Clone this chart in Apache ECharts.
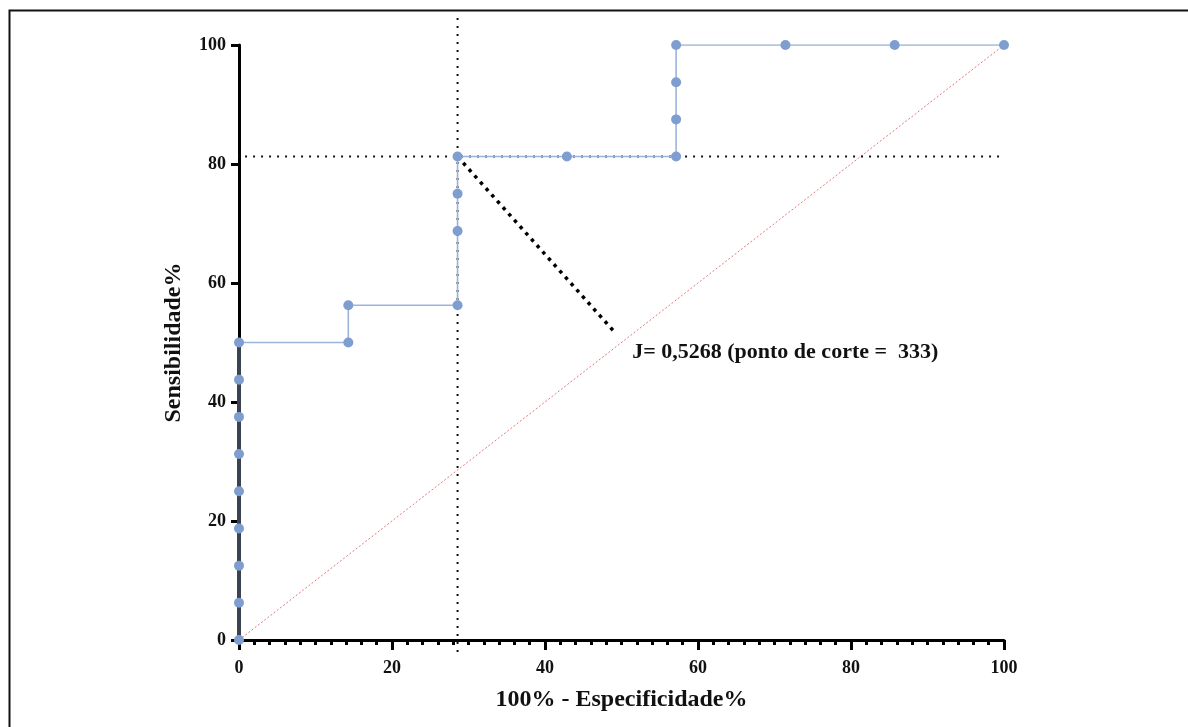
<!DOCTYPE html>
<html>
<head>
<meta charset="utf-8">
<script src="https://cdn.jsdelivr.net/npm/echarts@6/dist/echarts.min.js"></script>
<style>
html,body{margin:0;padding:0;background:#fff;}
#chart{width:1188px;height:727px;}
</style>
</head>
<body>
<div id="chart"></div>
<script>
// ROC curve points (100% - Especificidade%, Sensibilidade%)
const fpr  = [0,0,0,0,0,0,0,0,0, 14.29,14.29, 28.57,28.57,28.57,28.57, 42.86, 57.14,57.14,57.14,57.14, 71.43, 85.71, 100];
const sens = [0,6.25,12.5,18.75,25,31.25,37.5,43.75,50, 50,56.25, 56.25,68.75,75,81.25, 81.25, 81.25,87.5,93.75,100, 100, 100, 100];
// optimal cut-off (Youden)
const cutX = 28.57;
const cutY = 81.25;
const vLine = [[cutX, -2], [cutX, 104.7]];
const hLine = [[-1.3, cutY], [100, cutY]];
const jLine = [[cutX, cutY], [49.2, 51.6]];
const refLine = [[0, 0], [100, 100]];
const annText = 'J= 0,5268 (ponto de corte =  333)';
const annPos = [51.4, 48.3];
const xTicks = [0, 20, 40, 60, 80, 100];
const yTicks = [0, 20, 40, 60, 80, 100];

const pts = fpr.map((x, i) => [x, sens[i]]);
const zeroSeg = pts.filter(p => p[0] === 0);

const font = '"Liberation Serif", "Times New Roman", serif';
const chart = echarts.init(document.getElementById('chart'));
chart.setOption({
  animation: false,
  backgroundColor: '#fff',
  graphic: [{
    type: 'rect', silent: true,
    shape: { x: 9.5, y: 10.5, width: 1400, height: 1000 },
    style: { fill: 'none', stroke: '#111', lineWidth: 2 }
  }],
  grid: { left: 239, right: 184, top: 45, bottom: 87, containLabel: false },
  xAxis: {
    type: 'value', min: 0, max: 100, interval: 20,
    name: '100% - Especificidade%', nameLocation: 'middle', nameGap: 48,
    nameTextStyle: { fontFamily: font, fontWeight: 'bold', fontSize: 24, color: '#111' },
    axisLine: { show: true, onZero: false, lineStyle: { color: '#000', width: 3 } },
    axisTick: { show: true, length: 10, lineStyle: { color: '#000', width: 3 } },
    minorTick: { show: true, splitNumber: 10, length: 5, lineStyle: { color: '#000', width: 3 } },
    axisLabel: { fontFamily: font, fontWeight: 'bold', fontSize: 18, color: '#111', margin: 19,
      formatter: v => xTicks.includes(v) ? String(v) : '' },
    splitLine: { show: false }, minorSplitLine: { show: false }
  },
  yAxis: {
    type: 'value', min: 0, max: 100, interval: 20,
    name: 'Sensibilidade%', nameLocation: 'middle', nameGap: 53,
    nameTextStyle: { fontFamily: font, fontWeight: 'bold', fontSize: 24, color: '#111' },
    axisLine: { show: true, onZero: false, lineStyle: { color: '#000', width: 3 } },
    axisTick: { show: true, length: 8, lineStyle: { color: '#000', width: 3 } },
    axisLabel: { fontFamily: font, fontWeight: 'bold', fontSize: 18, color: '#111', margin: 13,
      formatter: v => yTicks.includes(v) ? String(v) : '' },
    splitLine: { show: false }
  },
  series: [
    { type: 'line', data: refLine, symbol: 'none', silent: true, z: 1,
      lineStyle: { color: '#e07a7a', width: 1, type: [2, 2] } },
    { type: 'line', data: vLine, symbol: 'none', clip: false, silent: true, z: 3,
      lineStyle: { color: '#111', width: 2, type: [2, 6] } },
    { type: 'line', data: hLine, symbol: 'none', clip: false, silent: true, z: 3,
      lineStyle: { color: '#111', width: 2, type: [2, 6] } },
    { type: 'line', data: jLine, symbol: 'none', silent: true, z: 3,
      lineStyle: { color: '#000', width: 3.5, type: [3.5, 5] } },
    { type: 'line', data: pts, symbol: 'none', silent: true, z: 4,
      lineStyle: { color: '#9bb3da', width: 1.6 } },
    { type: 'line', data: zeroSeg, symbol: 'none', clip: false, silent: true, z: 5,
      lineStyle: { color: '#3b4350', width: 4 } },
    { type: 'scatter', data: pts, symbol: 'circle', symbolSize: 10, clip: false, z: 6,
      itemStyle: { color: '#7f9ed0', opacity: 1 } },
    { type: 'scatter', data: [annPos], symbolSize: 0, z: 7, silent: true,
      itemStyle: { opacity: 1 },
      label: { show: true, position: 'right', distance: 0, formatter: annText,
        fontFamily: font, fontWeight: 'bold', fontSize: 22, color: '#111' } }
  ]
});
</script>
</body>
</html>
